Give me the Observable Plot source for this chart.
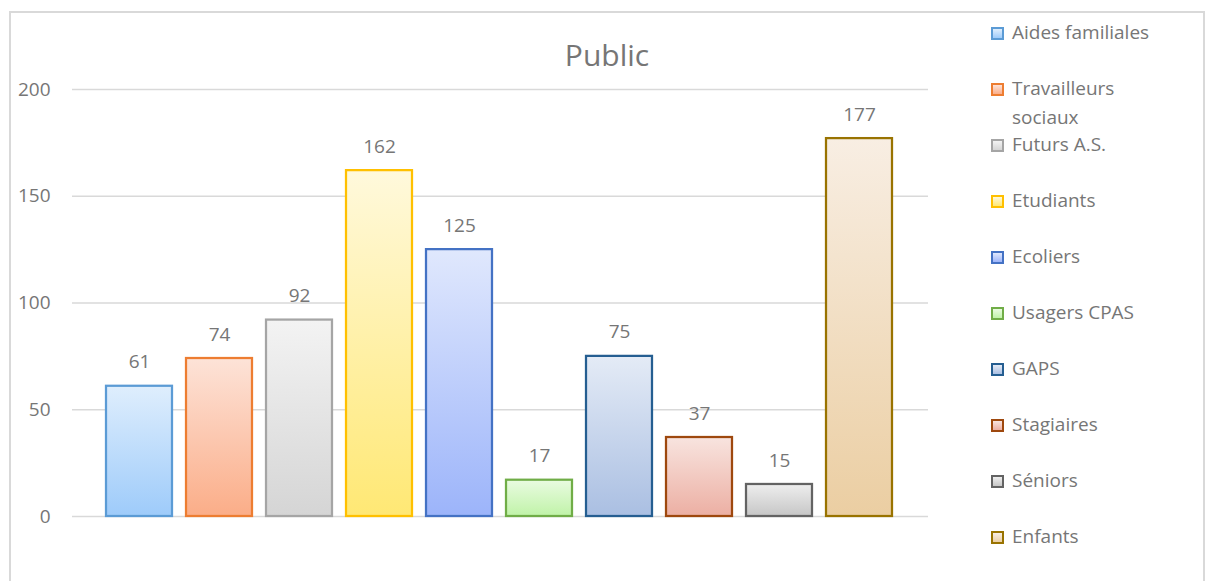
<!DOCTYPE html>
<html>
<head>
<meta charset="utf-8">
<script src="https://cdn.jsdelivr.net/npm/d3@7"></script>
<script src="https://cdn.jsdelivr.net/npm/@observablehq/plot@0.6"></script>
<style>
  body { margin: 0; background: #fff; overflow: hidden; width: 1211px; height: 581px; position: relative; font-family: "Open Sans", Lato, sans-serif; }
  #frame { position: absolute; left: 9px; top: 11px; width: 1196px; height: 640px; border: 2px solid #d9d9d9; box-sizing: border-box; pointer-events: none; }
  #title { position: absolute; left: 9px; width: 1196px; top: 37px; text-align: center; font-size: 30px; line-height: 36px; color: #767676; }
  #chart { position: absolute; left: 0; top: 0; }
  #legend { position: absolute; left: 991px; top: 0; }
  .item { position: absolute; left: 0; display: flex; align-items: flex-start; }
  .sw { width: 13px; height: 13px; box-sizing: border-box; border: 2px solid; margin-top: 9px; flex: none; }
  .lab { margin-left: 8px; width: 168px; font-size: 19px; line-height: 29px; color: #767676; }
  #defs { position: absolute; width: 0; height: 0; }
</style>
</head>
<body>
<div id="chart"></div>
<div id="title">Public</div>
<div id="legend"></div>
<div id="frame"></div>
<script>
const categories = ["Aides familiales", "Travailleurs sociaux", "Futurs A.S.", "Etudiants", "Ecoliers", "Usagers CPAS", "GAPS", "Stagiaires", "Séniors", "Enfants"];
const values = [61, 74, 92, 162, 125, 17, 75, 37, 15, 177];
const strokeColors = ["#5B9BD5", "#ED7D31", "#A5A5A5", "#FFC000", "#4472C4", "#70AD47", "#255E91", "#9E480E", "#636363", "#997300"];
const topColors = ["#dfeefd", "#fde3d8", "#f3f3f3", "#fff9dc", "#e0e8fd", "#e9fbe1", "#e4ebf6", "#f8e4df", "#eeeeee", "#f8eee3"];
const bottomColors = ["#9ecbfa", "#fbad88", "#d5d5d5", "#ffe874", "#9cb4fa", "#c0f3a8", "#aabfe2", "#ecafa3", "#c6c6c6", "#ebcea2"];
const yTicks = [0, 50, 100, 150, 200];

// gradient definitions
const defs = d3.select("body").append("svg").attr("id", "defs").append("defs");
categories.forEach((c, i) => {
  const g = defs.append("linearGradient").attr("id", "grad" + i)
    .attr("x1", 0).attr("y1", 0).attr("x2", 0).attr("y2", 1);
  g.append("stop").attr("offset", "0%").attr("stop-color", topColors[i]);
  g.append("stop").attr("offset", "100%").attr("stop-color", bottomColors[i]);
});

const data = categories.map((c, i) => ({
  category: c, value: values[i], stroke: strokeColors[i], fill: `url(#grad${i})`
}));

const chart = Plot.plot({
  width: 960,
  height: 560,
  marginTop: 89,
  marginBottom: 44,
  marginLeft: 72,
  marginRight: 32,
  style: { fontFamily: "'Open Sans', sans-serif", fontSize: "19px", color: "#767676", background: "transparent" },
  x: { domain: categories, paddingInner: 0.18, paddingOuter: 0.09, insetLeft: 25, insetRight: 27, axis: null },
  y: { domain: [0, 200], ticks: yTicks, tickSize: 0, tickPadding: 22, label: null },
  color: { type: "identity" },
  marks: [
    Plot.ruleY(yTicks, { stroke: "#d9d9d9", strokeWidth: 1.5 }),
    Plot.barY(data, { x: "category", y: "value", fill: "fill", stroke: "stroke", strokeWidth: 2.25,
      style: "filter: drop-shadow(1px 1px 1.5px rgba(0,0,0,0.18))" }),
    Plot.text(data, { x: "category", y: "value", text: d => String(d.value), dy: -24, fill: "#767676", fontSize: 19 })
  ]
});
document.getElementById("chart").appendChild(chart);

// legend
const legend = d3.select("#legend");
categories.forEach((c, i) => {
  const item = legend.append("div").attr("class", "item").style("top", (18 + 56 * i) + "px");
  item.append("div").attr("class", "sw")
    .style("border-color", strokeColors[i])
    .style("background", `linear-gradient(${topColors[i]}, ${bottomColors[i]})`);
  item.append("div").attr("class", "lab").text(c);
});
</script>
</body>
</html>
